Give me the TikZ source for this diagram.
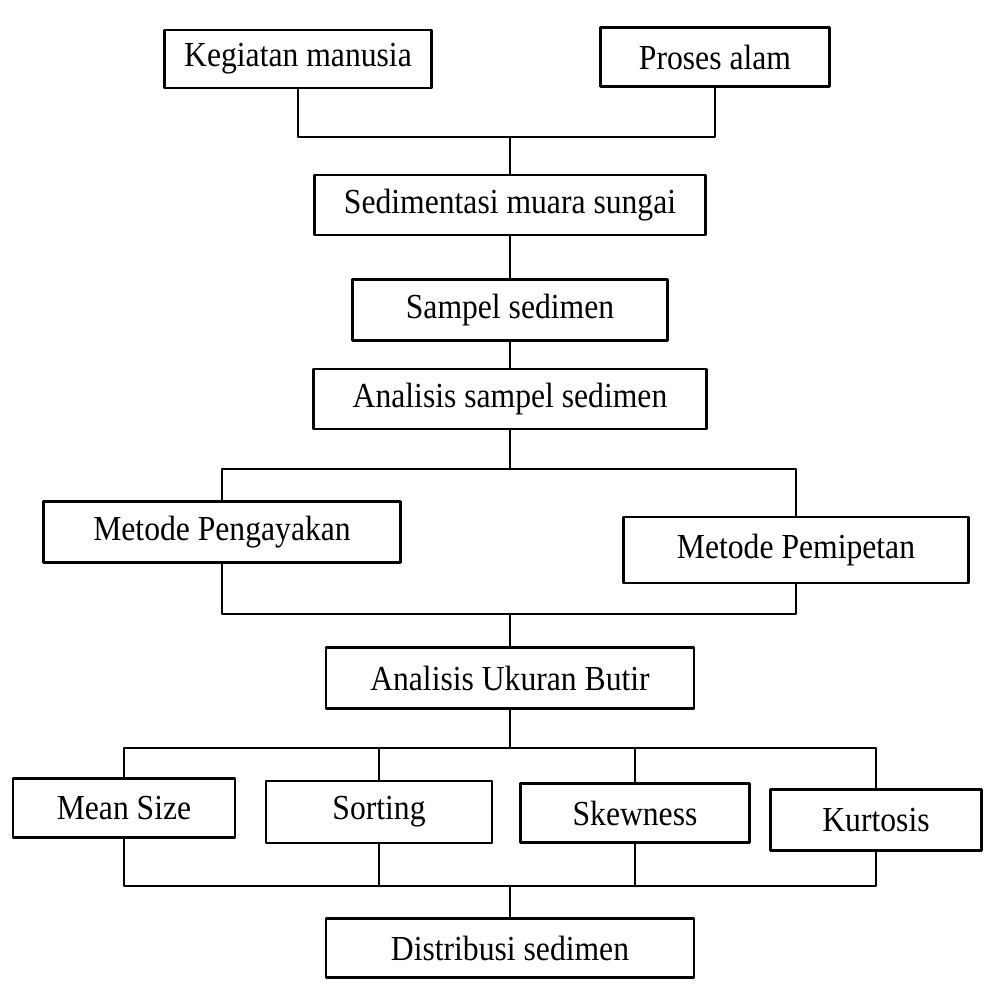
\documentclass[tikz,border=0pt]{standalone}
\usepackage{fontspec}
\setmainfont{Liberation Serif}[FakeStretch=0.9]
\usepackage{tikz}
\usetikzlibrary{positioning}

\begin{document}
\begin{tikzpicture}[line cap=round,line join=round,x=0.0125cm,y=-0.0125cm,
  kotak/.style={draw,line width=0.9pt,inner sep=0pt,font=\fontsize{12.5}{14}\selectfont},
  garis/.style={line width=0.9pt}]
\useasboundingbox (0,0) rectangle (990,1001);
% penyebab
\node[kotak,minimum width=267*0.0125cm,minimum height=58*0.0125cm] (km) at (298,59) {Kegiatan manusia};
\node[kotak,minimum width=229*0.0125cm,minimum height=59*0.0125cm] (pa) at (715,57) {Proses alam};
\coordinate (j1) at (510,137);
\draw[garis] (km.south) |- (j1) -| (pa.south);
% alur utama
\node[kotak,minimum width=391*0.0125cm,minimum height=60*0.0125cm] (sms) at (510,205) {Sedimentasi muara sungai};
\node[kotak,minimum width=315*0.0125cm,minimum height=61*0.0125cm] (ss) at (510,310) {Sampel sedimen};
\node[kotak,minimum width=393*0.0125cm,minimum height=60*0.0125cm] (ass) at (510,399) {Analisis sampel sedimen};
\draw[garis] (j1) -- (sms);
\draw[garis] (sms) -- (ss);
\draw[garis] (ss) -- (ass);
% metode
\node[kotak,minimum width=357*0.0125cm,minimum height=61*0.0125cm] (mpg) at (222,532) {Metode Pengayakan};
\node[kotak,minimum width=345*0.0125cm,minimum height=66*0.0125cm] (mpp) at (796,550) {Metode Pemipetan};
\coordinate (j2) at (510,469);
\coordinate (j3) at (510,614);
\draw[garis] (ass) -- (j2);
\draw[garis] (mpg.north) |- (j2) -| (mpp.north);
\draw[garis] (mpg.south) |- (j3) -| (mpp.south);
\node[kotak,minimum width=368*0.0125cm,minimum height=61*0.0125cm] (aub) at (510,678) {Analisis Ukuran Butir};
\draw[garis] (j3) -- (aub);
% parameter
\node[kotak,minimum width=222*0.0125cm,minimum height=59*0.0125cm] (ms) at (124,808) {Mean Size};
\node[kotak,minimum width=226*0.0125cm,minimum height=62*0.0125cm] (so) at (379,812) {Sorting};
\node[kotak,minimum width=229*0.0125cm,minimum height=59*0.0125cm] (sk) at (635,813) {Skewness};
\node[kotak,minimum width=211*0.0125cm,minimum height=61*0.0125cm] (ku) at (876,820) {Kurtosis};
\coordinate (j4) at (510,748);
\coordinate (j5) at (510,886);
\draw[garis] (aub) -- (j4);
\draw[garis] (ms.north) |- (j4) -| (ku.north);
\draw[garis] (so.north) -- (so.north |- j4);
\draw[garis] (sk.north) -- (sk.north |- j4);
\draw[garis] (ms.south) |- (j5) -| (ku.south);
\draw[garis] (so.south) -- (so.south |- j5);
\draw[garis] (sk.south) -- (sk.south |- j5);
\node[kotak,minimum width=368*0.0125cm,minimum height=59*0.0125cm] (ds) at (510,948) {Distribusi sedimen};
\draw[garis] (j5) -- (ds);
\end{tikzpicture}
\end{document}
